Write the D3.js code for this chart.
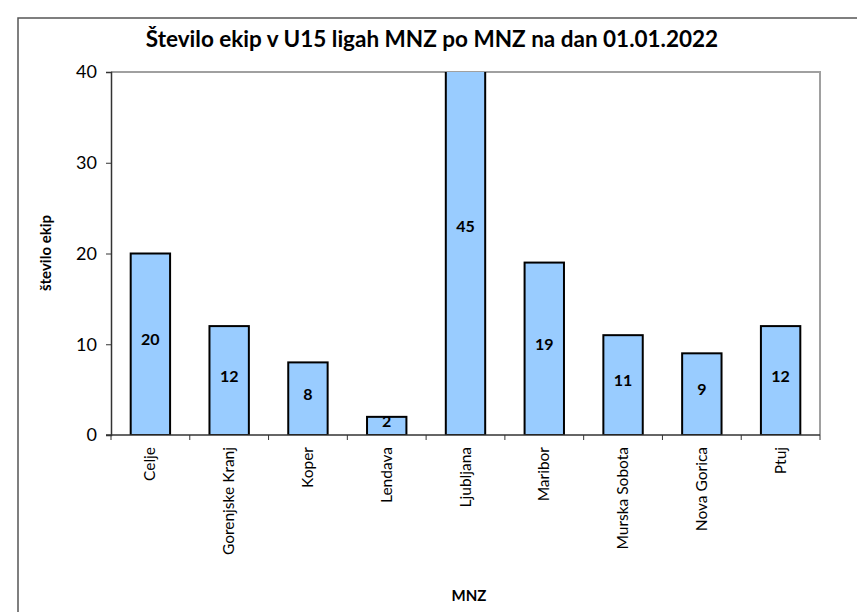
<!DOCTYPE html>
<html>
<head>
<meta charset="utf-8">
<script src="https://cdn.jsdelivr.net/npm/d3@7"></script>
<style>
  body { margin: 0; background: #fff; }
  text { font-family: Lato, "Open Sans", sans-serif; fill: #000; }
</style>
</head>
<body>
<script>
const categories = ["Celje", "Gorenjske Kranj", "Koper", "Lendava", "Ljubljana", "Maribor", "Murska Sobota", "Nova Gorica", "Ptuj"];
const values = [20, 12, 8, 2, 45, 19, 11, 9, 12];
const yTicks = [0, 10, 20, 30, 40];

const W = 857, H = 612;
const plotL = 111, plotR = 820, plotT = 72, plotB = 435;

const svg = d3.select("body").append("svg")
    .attr("width", W)
    .attr("height", H);

// outer chart frame
svg.append("rect")
    .attr("x", 18).attr("y", 18)
    .attr("width", 860).attr("height", 640)
    .attr("fill", "none")
    .attr("stroke", "#555")
    .attr("stroke-width", 1.5);

const x = d3.scaleBand().domain(categories).range([plotL, plotR]).paddingInner(0.5).paddingOuter(0.25);
const y = d3.scaleLinear().domain([0, 40]).range([plotB, plotT]);

svg.append("defs").append("clipPath").attr("id", "plotclip")
  .append("rect")
    .attr("x", plotL).attr("y", plotT)
    .attr("width", plotR - plotL).attr("height", plotB - plotT);

// plot border (top/right gray)
svg.append("path")
    .attr("d", `M${plotL},${plotT}H${plotR}V${plotB}`)
    .attr("fill", "none")
    .attr("stroke", "#a0a0a0")
    .attr("stroke-width", 2);

// bars
svg.append("g").attr("clip-path", "url(#plotclip)")
  .selectAll("rect")
  .data(values)
  .join("rect")
    .attr("x", (d, i) => x(categories[i]))
    .attr("y", d => y(d))
    .attr("width", x.bandwidth())
    .attr("height", d => y(0) - y(d))
    .attr("fill", "#99ccff")
    .attr("stroke", "#000")
    .attr("stroke-width", 2);

// value labels
svg.append("g")
  .selectAll("text")
  .data(values)
  .join("text")
    .attr("x", (d, i) => x(categories[i]) + x.bandwidth() / 2)
    .attr("y", d => y(d / 2) + 1)
    .attr("text-anchor", "middle")
    .attr("font-size", 16)
    .attr("font-weight", "bold")
    .text(d => d);

// y axis
const yAxis = svg.append("g")
    .attr("transform", `translate(${plotL},0)`)
    .call(d3.axisLeft(y).tickValues(yTicks).tickSize(5).tickPadding(9));
yAxis.select(".domain").attr("stroke", "#333").attr("stroke-width", 1.5);
yAxis.selectAll(".tick line").attr("stroke", "#333");
yAxis.selectAll(".tick text").attr("font-size", 18).attr("font-family", "Lato, sans-serif");

// x axis line + ticks at category boundaries
const step = (plotR - plotL) / categories.length;
svg.append("line")
    .attr("x1", plotL - 5).attr("x2", plotR)
    .attr("y1", plotB).attr("y2", plotB)
    .attr("stroke", "#333").attr("stroke-width", 1.5);
svg.append("g")
  .selectAll("line")
  .data(d3.range(categories.length + 1))
  .join("line")
    .attr("x1", i => plotL + i * step).attr("x2", i => plotL + i * step)
    .attr("y1", plotB).attr("y2", plotB + 5)
    .attr("stroke", "#333");

// category labels
svg.append("g")
  .selectAll("text")
  .data(categories)
  .join("text")
    .attr("transform", d => `translate(${x(d) + x.bandwidth() / 2 + 5},${plotB + 12}) rotate(-90)`)
    .attr("text-anchor", "end")
    .attr("font-size", 15.5)
    .text(d => d);

// title
svg.append("text")
    .attr("x", 432).attr("y", 47)
    .attr("text-anchor", "middle")
    .attr("font-size", 22.5)
    .attr("font-weight", "bold")
    .text("Število ekip v U15 ligah MNZ po MNZ na dan 01.01.2022");

// axis titles
svg.append("text")
    .attr("transform", `translate(51,253) rotate(-90)`)
    .attr("text-anchor", "middle")
    .attr("font-size", 15)
    .attr("font-weight", "bold")
    .text("število ekip");

svg.append("text")
    .attr("x", 469).attr("y", 601)
    .attr("text-anchor", "middle")
    .attr("font-size", 15)
    .attr("font-weight", "bold")
    .text("MNZ");
</script>
</body>
</html>
